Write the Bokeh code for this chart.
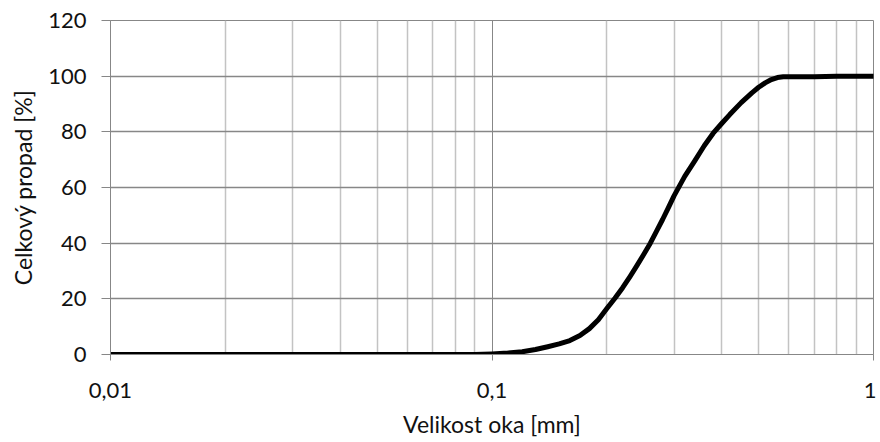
from bokeh.plotting import figure
from bokeh.models import FixedTicker, CustomJSTickFormatter, Range1d
from bokeh.embed import file_html
from bokeh.resources import INLINE

# Data
mesh_mm = [0.01, 0.05, 0.09, 0.1, 0.11, 0.12, 0.13, 0.14, 0.15, 0.16, 0.17, 0.18,
           0.19, 0.2, 0.21, 0.22, 0.23, 0.24, 0.25, 0.26, 0.27, 0.28, 0.29, 0.3,
           0.32, 0.34, 0.36, 0.38, 0.4, 0.42, 0.45, 0.48, 0.5, 0.52, 0.54, 0.56,
           0.58, 0.6, 0.7, 0.8, 0.9, 1.0]
passing_pct = [0, 0, 0, 0.2, 0.5, 1.0, 1.8, 2.8, 3.8, 5.0, 6.8, 9.3,
               12.5, 16.5, 20.2, 24, 28, 32, 36, 40, 44.3, 48.5, 52.8, 57,
               64, 69.6, 75, 79.5, 83, 86.2, 90.5, 94, 96, 97.6, 98.8, 99.5,
               99.8, 99.8, 99.8, 100, 100, 100]

x_major_ticks = [0.01, 0.1, 1]
x_minor_ticks = [0.02, 0.03, 0.04, 0.05, 0.06, 0.07, 0.08, 0.09,
                 0.2, 0.3, 0.4, 0.5, 0.6, 0.7, 0.8, 0.9]
y_ticks = [0, 20, 40, 60, 80, 100, 120]

x_title = "Velikost oka [mm]"
y_title = "Celkový propad [%]"

FONT = "Lato"
TXT = "#111111"
MAJ = "#878787"
MIN = "#c3c3c3"

p = figure(width=876, height=440, x_axis_type="log",
           x_range=Range1d(0.01, 1), y_range=Range1d(0, 120),
           output_backend="svg", toolbar_location=None,
           min_border_left=110, min_border_right=3, min_border_top=20,
           min_border_bottom=10)

p.background_fill_color = "white"
p.border_fill_color = "white"
p.outline_line_color = MAJ

p.line(mesh_mm, passing_pct, line_color="black", line_width=5,
       line_join="round", line_cap="round")

# x axis
xa = p.xaxis[0]
xa.ticker = FixedTicker(ticks=x_major_ticks, minor_ticks=x_minor_ticks)
xa.formatter = CustomJSTickFormatter(code="return tick.toString().replace('.', ',');")
xa.axis_label = x_title
xa.axis_line_color = MAJ
xa.major_tick_line_color = MAJ
xa.major_tick_out = 6
xa.major_tick_in = 0
xa.minor_tick_out = 0
xa.minor_tick_in = 0
xa.major_label_standoff = 22
xa.axis_label_standoff = 9

# y axis
ya = p.yaxis[0]
ya.ticker = FixedTicker(ticks=y_ticks)
ya.axis_label = y_title
ya.axis_line_color = MAJ
ya.major_tick_line_color = MAJ
ya.major_tick_out = 9
ya.major_tick_in = 0
ya.minor_tick_out = 0
ya.minor_tick_in = 0
ya.major_label_standoff = 15
ya.axis_label_standoff = 8

for ax in (xa, ya):
    ax.major_label_text_font = FONT
    ax.major_label_text_font_size = "22px"
    ax.major_label_text_color = TXT
    ax.axis_label_text_font = FONT
    ax.axis_label_text_font_size = "23px"
    ax.axis_label_text_font_style = "normal"
    ax.axis_label_text_color = TXT

# grids
p.xgrid[0].grid_line_color = MAJ
p.xgrid[0].minor_grid_line_color = MIN
p.xgrid[0].grid_line_width = 1
p.xgrid[0].minor_grid_line_width = 1.5
p.ygrid[0].grid_line_color = MAJ
p.ygrid[0].grid_line_width = 1.5

open("out.html", "w").write(file_html(p, INLINE))
